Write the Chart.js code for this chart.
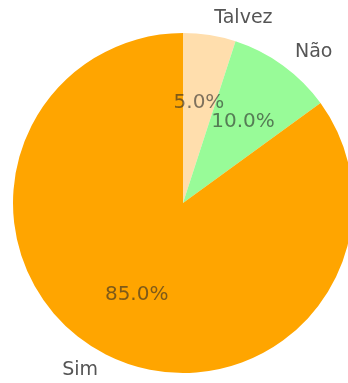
<!DOCTYPE html>
<html><head><meta charset="utf-8">
<script src="https://cdn.jsdelivr.net/npm/chart.js@4"></script>
<style>html,body{margin:0;padding:0;overflow:hidden;background:#fff}#wrap{position:absolute;left:0;top:0;width:368px;height:383px}</style>
</head><body><div id="wrap"><canvas id="c"></canvas></div>
<script>
const categories = ["Talvez", "Não", "Sim"];
const values = [5, 10, 85];
const colors = ["#FFDEAD", "#98FB98", "#FFA500"];

const labelPlugin = {
  id: 'pieLabels',
  afterDatasetsDraw(chart) {
    const ctx = chart.ctx;
    const meta = chart.getDatasetMeta(0);
    const total = values.reduce((a, b) => a + b, 0);
    ctx.save();
    ctx.textBaseline = 'middle';
    meta.data.forEach((arc, i) => {
      const a = (arc.startAngle + arc.endAngle) / 2;
      const r = arc.outerRadius;
      const cx = arc.x, cy = arc.y;
      const lx = cx + Math.cos(a) * r * 1.1;
      const ly = cy + Math.sin(a) * r * 1.1;
      ctx.font = '19px "DejaVu Sans"';
      ctx.fillStyle = '#555555';
      ctx.textAlign = Math.cos(a) >= 0 ? 'left' : 'right';
      ctx.fillText(categories[i], lx + (Math.cos(a) >= 0 ? 2 : 0), ly);
      const px = cx + Math.cos(a) * r * 0.6;
      const py = cy + Math.sin(a) * r * 0.6;
      ctx.font = '20px "DejaVu Sans"';
      ctx.fillStyle = 'rgba(40,40,40,0.6)';
      ctx.textAlign = 'center';
      ctx.fillText((values[i] / total * 100).toFixed(1) + '%', px, py + 1);
    });
    ctx.restore();
  }
};

new Chart(document.getElementById('c'), {
  type: 'pie',
  data: { labels: categories, datasets: [{ data: values, backgroundColor: colors, borderWidth: 0 }] },
  options: {
    responsive: true, maintainAspectRatio: false, animation: false,
    layout: { padding: { left: 13, top: 33, right: 15, bottom: 10 } },
    plugins: { legend: { display: false }, tooltip: { enabled: false } }
  },
  plugins: [labelPlugin]
});
</script></body></html>
